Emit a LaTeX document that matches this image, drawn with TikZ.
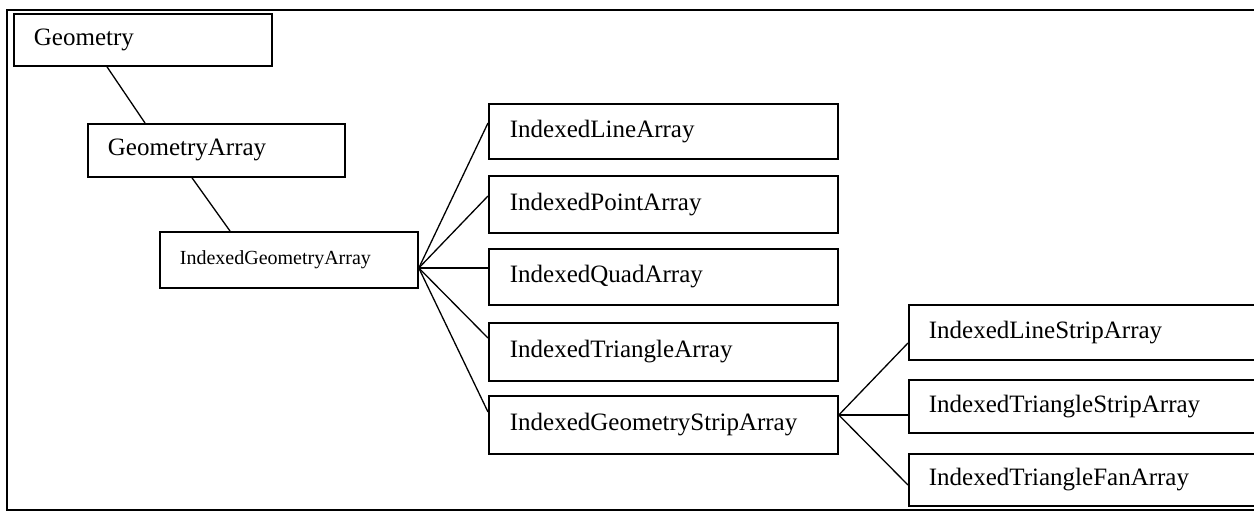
\documentclass[tikz,border=0pt]{standalone}
\usepackage{fontspec}
\setmainfont{Liberation Serif}
\begin{document}
\begin{tikzpicture}[x=1pt,y=-1pt,
  box/.style={draw, line width=1.8pt, rectangle, anchor=north west,
    inner xsep=20pt, inner ysep=0pt, align=left,
    font=\fontsize{25}{30}\selectfont},
  link/.style={line width=1.3pt}]
\useasboundingbox (0,0) rectangle (1254,512);
\clip (0,0) rectangle (1254,512);
% frame
\draw[line width=2pt] (1260,10) -- (7,10) -- (7,510) -- (1260,510);
% nodes
\node[box, minimum width=258pt, minimum height=52pt, text width=218pt] (geo) at (13,13) {Geometry};
\node[box, minimum width=257pt, minimum height=53pt, text width=217pt] (garr) at (87,123) {GeometryArray};
\node[box, minimum width=258pt, minimum height=56pt, text width=218pt, font=\fontsize{20}{24}\selectfont] (iga) at (159,231) {IndexedGeometryArray};
\node[box, minimum width=349pt, minimum height=55pt, text width=307pt] (ila) at (488,103) {IndexedLineArray};
\node[box, minimum width=349pt, minimum height=57pt, text width=307pt] (ipa) at (488,175) {IndexedPointArray};
\node[box, minimum width=349pt, minimum height=56pt, text width=307pt] (iqa) at (488,248) {IndexedQuadArray};
\node[box, minimum width=349pt, minimum height=58pt, text width=307pt] (ita) at (488,322) {IndexedTriangleArray};
\node[box, minimum width=349pt, minimum height=58pt, text width=307pt] (igsa) at (488,395) {IndexedGeometryStripArray};
\node[box, minimum width=400pt, minimum height=55pt, text width=360pt] (ilsa) at (908,304) {IndexedLineStripArray};
\node[box, minimum width=400pt, minimum height=53pt, text width=360pt] (itsa) at (908,379) {IndexedTriangleStripArray};
\node[box, minimum width=400pt, minimum height=52pt, text width=360pt] (itfa) at (908,453) {IndexedTriangleFanArray};
% connectors
\draw[link] ([xshift=94pt]geo.south west) -- ([xshift=58pt]garr.north west);
\draw[link] ([xshift=105pt]garr.south west) -- ([xshift=71pt]iga.north west);
\coordinate (igaout) at ([yshift=-37pt]iga.north east);
\draw[link] (igaout) -- ([yshift=-20pt]ila.north west);
\draw[link] (igaout) -- ([yshift=-21pt]ipa.north west);
\draw[link] (igaout) -- ([yshift=-20pt]iqa.north west);
\draw[link] (igaout) -- ([yshift=-16pt]ita.north west);
\draw[link] (igaout) -- ([yshift=-17pt]igsa.north west);
\coordinate (igsaout) at ([yshift=-20pt]igsa.north east);
\draw[link] (igsaout) -- ([yshift=-39pt]ilsa.north west);
\draw[link] (igsaout) -- ([yshift=-36pt]itsa.north west);
\draw[link] (igsaout) -- ([yshift=-32pt]itfa.north west);
\end{tikzpicture}
\end{document}
